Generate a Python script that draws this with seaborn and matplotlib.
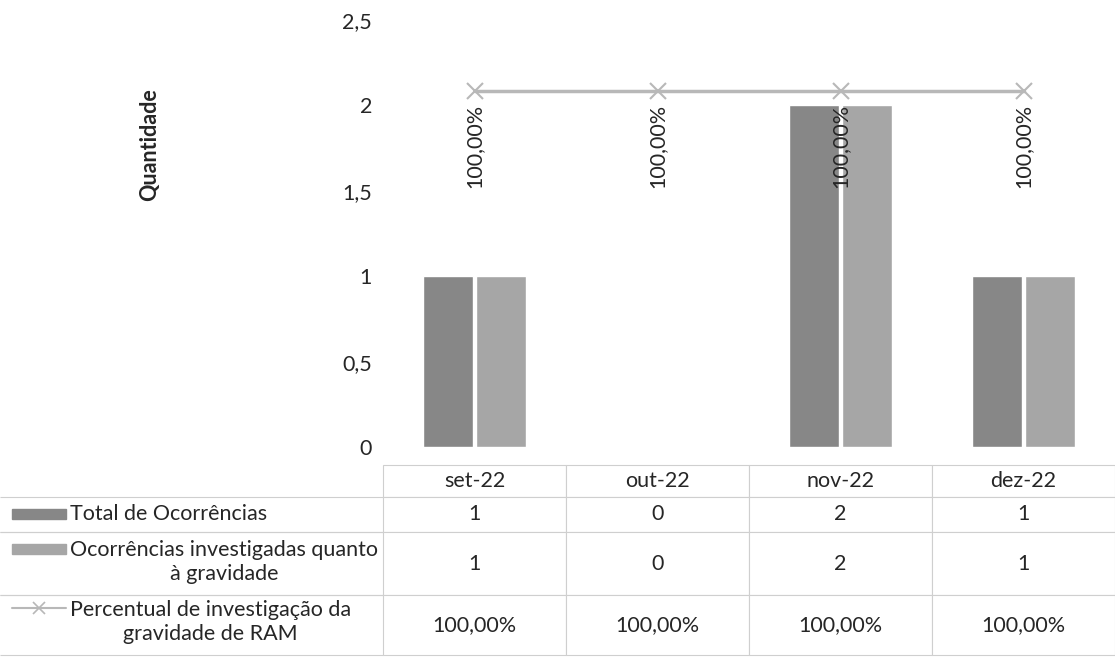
import pandas as pd
import matplotlib.pyplot as plt
import seaborn as sns
from matplotlib.patches import Rectangle
from matplotlib.lines import Line2D
from matplotlib.ticker import FuncFormatter

meses = ['set-22', 'out-22', 'nov-22', 'dez-22']
total_ocorrencias = [1, 0, 2, 1]
investigadas = [1, 0, 2, 1]
percentual = [1.0, 1.0, 1.0, 1.0]

s_total = 'Total de Ocorrências'
s_inv = 'Ocorrências investigadas quanto\nà gravidade'
s_pct = 'Percentual de investigação da\ngravidade de RAM'

dark = '#878787'
light = '#a6a6a6'
line_c = '#b8b8b8'
txt_c = '#262626'
grid_c = '#cfcfcf'

sns.set_theme(style='white')
plt.rcParams['font.family'] = ['Lato', 'DejaVu Sans']
plt.rcParams['text.color'] = txt_c
FS = 15.5


def pct_fmt(v):
    return f'{v * 100:.2f}%'.replace('.', ',')


W, H = 1115, 663
AX_W, AX_H = 732, 427
fig = plt.figure(figsize=(W / 100, H / 100), dpi=100)
ax = fig.add_axes([383 / W, 1 - 447 / H, AX_W / W, AX_H / H])

data_df = pd.DataFrame({'mes': meses * 2,
                        'serie': [s_total] * 4 + [s_inv] * 4,
                        'quantidade': total_ocorrencias + investigadas})
sns.barplot(data=data_df, x='mes', y='quantidade', hue='serie', palette=[dark, light],
            width=0.58, gap=0.06, saturation=1, legend=False, ax=ax)

ax.set_ylim(0, 2.5)
ax.set_yticks([0, 0.5, 1, 1.5, 2, 2.5])
ax.yaxis.set_major_formatter(FuncFormatter(lambda v, p: f'{v:g}'.replace('.', ',')))
ax.tick_params(axis='y', length=0, pad=8, labelsize=FS, labelcolor=txt_c)
ax.tick_params(axis='x', length=0, labelbottom=False)
ax.set_xlabel('')
ax.set_ylabel('')
for s in ax.spines.values():
    s.set_visible(False)

# percentual no eixo secundario (oculto)
ax2 = ax.twinx()
sns.pointplot(x=meses, y=percentual, color=line_c, markers='x', linestyles='-',
              errorbar=None, markersize=11, markeredgewidth=1.5, linewidth=2.5, ax=ax2)
ax2.set_ylim(0, 1.2)
ax2.set_yticks([])
ax2.set_ylabel('')
for s in ax2.spines.values():
    s.set_visible(False)
for i, p in enumerate(percentual):
    ax2.annotate(pct_fmt(p), (i, p), xytext=(0, -9), textcoords='offset points',
                 rotation=90, ha='center', va='top', fontsize=FS, color=txt_c)
ax.set_xlim(-0.5, 3.5)

fig.text(150 / W, 1 - 145 / H, 'Quantidade', rotation=90, weight='bold',
         ha='center', va='center', fontsize=FS, color=txt_c)

# tabela de dados: primeira coluna reservada para os rotulos das series
row_labels = [s_total, s_inv, s_pct]
cell_text = [[''] + [str(v) for v in total_ocorrencias],
             [''] + [str(v) for v in investigadas],
             [''] + [pct_fmt(v) for v in percentual]]
tbl = ax.table(cellText=cell_text, colLabels=[''] + meses, cellLoc='center',
               bbox=[-383 / AX_W, (447 - 655) / AX_H, W / AX_W, 190 / AX_H])
tbl.auto_set_font_size(False)
tbl.set_fontsize(FS)
heights = {0: 32, 1: 35, 2: 63, 3: 60}
for (r, c), cell in tbl.get_celld().items():
    cell.set_width((383 if c == 0 else 183) / AX_W)
    cell.set_height(heights[r] / AX_H)
    cell.set_edgecolor(grid_c)
    cell.set_linewidth(0.8)
    cell.get_text().set_color(txt_c)
    if c == 0:
        cell.visible_edges = 'open' if r == 0 else 'TB'

# rotulos das linhas com as chaves da legenda
row_y = [514, 562, 622]
for lab, y in zip(row_labels, row_y):
    fig.text(70 / W, 1 - y / H, lab, ha='left', va='center', multialignment='center',
             linespacing=1.25, fontsize=FS, color=txt_c)
for y, col in [(514, dark), (549, light)]:
    fig.add_artist(Rectangle((12 / W, 1 - (y + 5) / H), 54 / W, 10 / H,
                             transform=fig.transFigure, color=col))
fig.add_artist(Line2D([12 / W, 66 / W], [1 - 608 / H] * 2, transform=fig.transFigure,
                      color=line_c, lw=1.5))
fig.add_artist(Line2D([39 / W], [1 - 608 / H], transform=fig.transFigure, color=line_c,
                      marker='x', markersize=8, markeredgewidth=1.2))

plt.savefig('out.png', dpi=100)
